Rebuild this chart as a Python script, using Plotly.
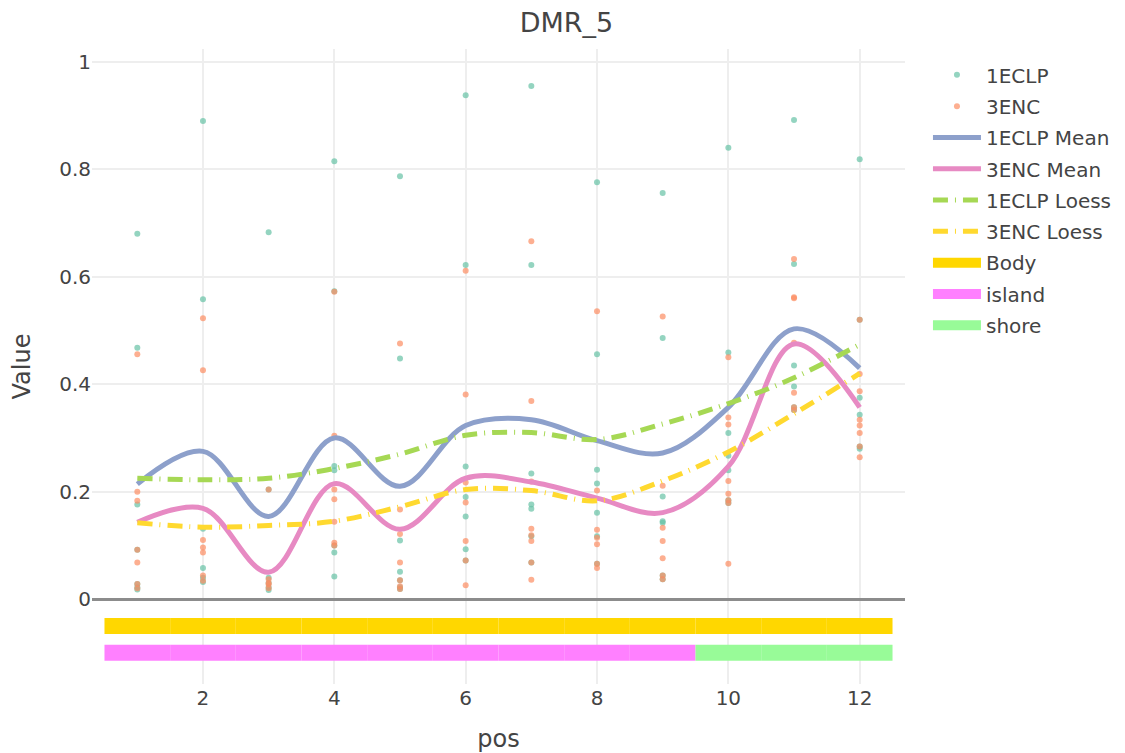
import plotly.graph_objects as go

# ---------------- data ----------------
pos = [1, 2, 3, 4, 5, 6, 7, 8, 9, 10, 11, 12]

# individual sample values per position
eclp_values = [
    [0.680, 0.468, 0.176, 0.092, 0.028, 0.022, 0.018],
    [0.890, 0.558, 0.131, 0.058, 0.040, 0.032],
    [0.683, 0.204, 0.040, 0.030, 0.022, 0.017],
    [0.815, 0.573, 0.248, 0.240, 0.100, 0.087, 0.042],
    [0.787, 0.448, 0.109, 0.051, 0.035, 0.022, 0.019],
    [0.938, 0.622, 0.247, 0.190, 0.154, 0.093, 0.072],
    [0.955, 0.622, 0.234, 0.176, 0.168, 0.117, 0.068],
    [0.776, 0.456, 0.241, 0.215, 0.161, 0.117, 0.066],
    [0.756, 0.486, 0.191, 0.145, 0.142, 0.044, 0.037],
    [0.840, 0.459, 0.309, 0.267, 0.240, 0.184, 0.179],
    [0.892, 0.624, 0.435, 0.396, 0.357, 0.352],
    [0.819, 0.520, 0.375, 0.343, 0.284, 0.280],
]
enc_values = [
    [0.456, 0.200, 0.183, 0.092, 0.068, 0.028, 0.020],
    [0.523, 0.426, 0.110, 0.096, 0.087, 0.044, 0.034],
    [0.204, 0.037, 0.030, 0.027, 0.020],
    [0.572, 0.304, 0.204, 0.186, 0.144, 0.105, 0.100],
    [0.476, 0.167, 0.121, 0.068, 0.035, 0.024, 0.019],
    [0.611, 0.381, 0.217, 0.180, 0.108, 0.072, 0.026],
    [0.666, 0.369, 0.219, 0.131, 0.119, 0.108, 0.068, 0.036],
    [0.536, 0.202, 0.129, 0.114, 0.102, 0.066, 0.058],
    [0.526, 0.211, 0.133, 0.108, 0.076, 0.044, 0.037],
    [0.450, 0.338, 0.325, 0.220, 0.196, 0.184, 0.179, 0.066],
    [0.633, 0.562, 0.560, 0.477, 0.384, 0.357, 0.352],
    [0.520, 0.419, 0.387, 0.334, 0.323, 0.309, 0.284, 0.264],
]

eclp_mean = [0.214, 0.275, 0.154, 0.300, 0.210, 0.323, 0.334, 0.295, 0.272, 0.357, 0.503, 0.430]
enc_mean = [0.143, 0.169, 0.050, 0.215, 0.130, 0.225, 0.218, 0.188, 0.161, 0.247, 0.475, 0.357]
eclp_loess = [0.225, 0.222, 0.225, 0.243, 0.270, 0.305, 0.310, 0.297, 0.326, 0.364, 0.412, 0.474]
enc_loess = [0.142, 0.134, 0.137, 0.145, 0.172, 0.204, 0.202, 0.183, 0.220, 0.274, 0.345, 0.420]

body_labels = ["Body"] * 12
region_labels = ["island"] * 9 + ["shore"] * 3

# ---------------- styles ----------------
C_ECLP = "#66c2a5"
C_ENC = "#fc8d62"
C_ECLP_MEAN = "#8da0cb"
C_ENC_MEAN = "#e78ac3"
C_ECLP_LOESS = "#a6d854"
C_ENC_LOESS = "#ffd92f"
TRACK_COLORS = {"Body": "#ffd700", "island": "#ff80ff", "shore": "#98fb98"}
TRACK_Y = {"body": -0.05, "region": -0.10}
DASH = "15px,7px,1px,7px"

fig = go.Figure()


def scatter_xy(values):
    xs, ys = [], []
    for p, vals in zip(pos, values):
        for v in vals:
            xs.append(p)
            ys.append(v)
    return xs, ys


x1, y1 = scatter_xy(eclp_values)
x2, y2 = scatter_xy(enc_values)

fig.add_trace(go.Scatter(x=x1, y=y1, mode="markers", name="1ECLP", legendgroup="g1",
                         marker=dict(color=C_ECLP, size=6, opacity=0.7)))
fig.add_trace(go.Scatter(x=x2, y=y2, mode="markers", name="3ENC", legendgroup="g2",
                         marker=dict(color=C_ENC, size=6, opacity=0.7)))

fig.add_trace(go.Scatter(x=pos, y=eclp_mean, mode="lines", name="1ECLP Mean", legendgroup="g3",
                         line=dict(color=C_ECLP_MEAN, width=5, shape="spline")))
fig.add_trace(go.Scatter(x=pos, y=enc_mean, mode="lines", name="3ENC Mean", legendgroup="g4",
                         line=dict(color=C_ENC_MEAN, width=5, shape="spline")))
fig.add_trace(go.Scatter(x=pos, y=eclp_loess, mode="lines", name="1ECLP Loess", legendgroup="g5",
                         line=dict(color=C_ECLP_LOESS, width=5, shape="spline", dash=DASH)))
fig.add_trace(go.Scatter(x=pos, y=enc_loess, mode="lines", name="3ENC Loess", legendgroup="g6",
                         line=dict(color=C_ENC_LOESS, width=5, shape="spline", dash=DASH)))


def add_track(labels, yval):
    shown = set()
    for p, lab in zip(pos, labels):
        fig.add_trace(go.Scatter(
            x=[p - 0.5, p + 0.5], y=[yval, yval], mode="lines",
            name=lab, legendgroup=lab, showlegend=lab not in shown,
            line=dict(color=TRACK_COLORS[lab], width=16),
            hoverinfo="name"))
        shown.add(lab)


add_track(body_labels, TRACK_Y["body"])
add_track(region_labels, TRACK_Y["region"])

fig.update_layout(
    width=1117, height=745,
    title=dict(text="DMR_5", x=0.5, xanchor="center", y=0.981, yanchor="middle",
               font=dict(size=27, color="#444")),
    font=dict(family="DejaVu Sans, Verdana, sans-serif", size=20, color="#444"),
    plot_bgcolor="white", paper_bgcolor="white",
    margin=dict(l=84, r=220, t=41, b=69),
    xaxis=dict(title=dict(text="pos", standoff=22), range=[0.31, 12.69], tick0=0, dtick=2,
               showgrid=True, gridcolor="#eeeeee", gridwidth=1.5,
               zeroline=False, showline=False, ticks="", automargin=False),
    yaxis=dict(title=dict(text="Value", standoff=24), range=[-0.158, 1.024], tick0=0, dtick=0.2,
               showgrid=True, gridcolor="#eeeeee", gridwidth=1.5,
               zeroline=True, zerolinecolor="#8c8c8c", zerolinewidth=2.5,
               showline=False, ticks="", automargin=False),
    legend=dict(xref="container", x=0.8236, y=0.99, xanchor="left", yanchor="top",
                itemwidth=48, font=dict(size=20), tracegroupgap=2.3),
    showlegend=True,
)

fig.write_html("out.html")
